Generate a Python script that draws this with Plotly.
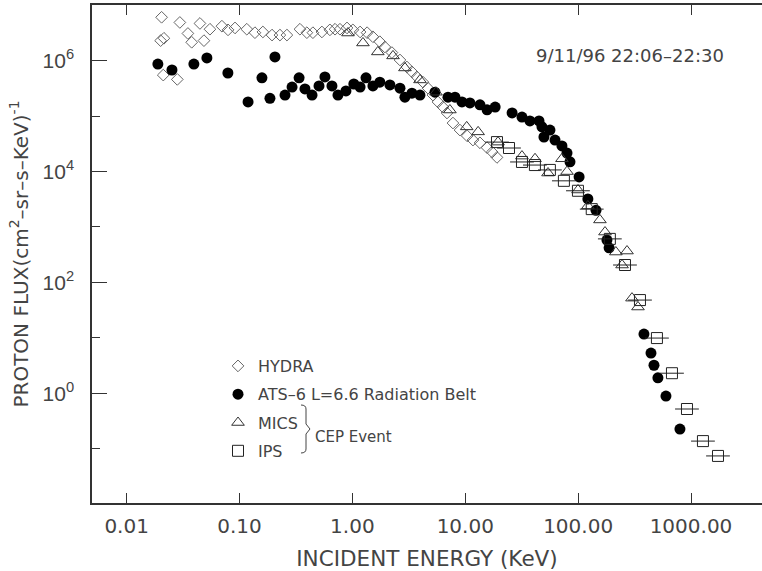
import plotly.graph_objects as go

# HYDRA (open diamonds)
hydra_energy = [0.0200, 0.0204, 0.0211, 0.0214, 0.0281, 0.0296, 0.0349, 0.0377, 0.0446, 0.0484,
                0.0547, 0.0698, 0.0791, 0.0912, 0.116, 0.137, 0.161, 0.194, 0.228, 0.263,
                0.343, 0.395, 0.447, 0.537, 0.632, 0.702, 0.776, 0.896, 1.01, 1.17,
                1.35, 1.52, 1.75, 1.94, 2.24, 2.64, 3.04, 3.37, 3.73, 4.22,
                4.67, 5.17, 5.73, 6.34, 6.89, 7.78, 8.98, 10.4, 11.7, 13.5,
                15.6, 17.3, 19.1]
hydra_flux = [2.30e6, 6.07e6, 5.5e5, 2.54e6, 4.6e5, 4.9e6, 3.1e6, 2.15e6, 4.7e6, 2.3e6,
              3.7e6, 4.2e6, 3.6e6, 3.9e6, 3.7e6, 3.2e6, 3.3e6, 2.9e6, 2.9e6, 2.9e6,
              3.7e6, 3.2e6, 3.2e6, 3.3e6, 3.6e6, 3.7e6, 3.7e6, 3.9e6, 3.6e6, 3.3e6,
              3.2e6, 2.7e6, 2.2e6, 1.77e6, 1.4e6, 1.03e6, 7.7e5, 6.3e5, 5.1e5, 4.1e5,
              3.2e5, 2.4e5, 1.8e5, 1.46e5, 1.14e5, 7.5e4, 5.6e4, 4.4e4, 3.7e4, 3.3e4,
              2.7e4, 2.25e4, 1.8e4]

# ATS-6 L=6.6 radiation belt (filled circles)
ats_energy = [0.0189, 0.0252, 0.0394, 0.0514, 0.0789, 0.119, 0.158, 0.186, 0.206, 0.253,
              0.292, 0.337, 0.380, 0.439, 0.506, 0.571, 0.659, 0.745, 0.877, 1.03,
              1.17, 1.32, 1.52, 1.75, 2.15, 2.64, 2.92, 3.37, 3.97, 5.39,
              7.03, 8.11, 9.35, 11.0, 13.5, 15.6, 18.4, 26.0, 31.8, 37.4,
              45.0, 47.8, 49.8, 56.3, 62.4, 71.9, 79.7, 84.7, 102, 122,
              144, 180, 188, 383, 442, 470, 509, 600, 798]
ats_flux = [8.7e5, 6.8e5, 8.7e5, 1.12e6, 6.0e5, 1.8e5, 4.9e5, 2.1e5, 1.17e6, 2.4e5,
            3.35e5, 4.9e5, 3.1e5, 2.4e5, 3.5e5, 5.1e5, 3.5e5, 2.4e5, 2.85e5, 3.8e5,
            3.35e5, 4.9e5, 3.5e5, 4.1e5, 3.65e5, 3.2e5, 2.2e5, 2.6e5, 2.4e5, 2.7e5,
            2.2e5, 2.2e5, 1.8e5, 1.73e5, 1.6e5, 1.3e5, 1.46e5, 1.14e5, 9.6e4, 8.2e4,
            8.2e4, 6.4e4, 4.2e4, 5.6e4, 3.7e4, 2.9e4, 2.16e4, 1.5e4, 8.0e3, 3.2e3,
            2.0e3, 580, 420, 11.7, 5.3, 3.2, 1.9, 0.89, 0.226]

# MICS (open triangles)
mics_energy = [0.914, 1.24, 1.68, 2.29, 2.92, 3.97, 5.50, 7.31, 10.3, 13.0,
               19.5, 31.8, 41.5, 54.1, 71.9, 79.7, 99.8, 122, 156, 173,
               216, 245, 271, 300, 339]
mics_flux = [3.16e6, 2.09e6, 1.44e6, 1.22e6, 7.4e5, 4.5e5, 2.7e5, 1.29e5, 6.4e4, 5.2e4,
             3.4e4, 1.9e4, 1.7e4, 9.4e3, 1.7e4, 1.0e4, 4.65e3, 2.4e3, 1.34e3, 810,
             353, 206, 368, 52, 36]

# IPS (open squares with energy bars)
ips_energy = [19.1, 24.4, 31.8, 41.4, 56.2, 74.8, 99.6, 132, 191, 260,
              353, 499, 678, 921, 1276, 1734]
ips_flux = [3.4e4, 2.66e4, 1.49e4, 1.31e4, 1.07e4, 6.8e3, 4.5e3, 2.1e3, 610, 206,
            48, 9.9, 2.3, 0.52, 0.137, 0.074]

x_ticks = [0.01, 0.1, 1, 10, 100, 1000]
x_labels = ['0.01', '0.10', '1.00', '10.00', '100.00', '1000.00']
y_ticks = [1, 1e2, 1e4, 1e6]
y_labels = ['10<sup>0</sup>', '10<sup>2</sup>', '10<sup>4</sup>', '10<sup>6</sup>']
y_minor = [0.1, 10, 1e3, 1e5]

W, H = 762, 571
ML, MR, MT, MB = 92, 0, 5, 68
FONT = 'DejaVu Sans'
TXT = '#444'

fig = go.Figure()
fig.add_trace(go.Scatter(x=hydra_energy, y=hydra_flux, mode='markers', name='HYDRA',
                         legendgroup='a', legendrank=1,
                         marker=dict(symbol='diamond-open', size=9, color='#666',
                                     line=dict(width=1, color='#666'))))
fig.add_trace(go.Scatter(x=ats_energy, y=ats_flux, mode='markers',
                         name='ATS\u20136 L=6.6 Radiation Belt',
                         legendgroup='b', legendrank=2,
                         marker=dict(symbol='circle', size=11, color='black')))
fig.add_trace(go.Scatter(x=mics_energy, y=mics_flux, mode='markers', name='MICS',
                         legendgroup='c', legendrank=3,
                         marker=dict(symbol='triangle-up-open', size=11, color='#333',
                                     line=dict(width=1, color='#333'))))
fig.add_trace(go.Scatter(x=ips_energy, y=ips_flux, mode='markers', name='IPS',
                         legendgroup='d', legendrank=4,
                         marker=dict(symbol='square-open', size=11, color='#222',
                                     line=dict(width=1, color='#222'))))
fig.add_trace(go.Scatter(x=ips_energy, y=ips_flux, mode='markers', showlegend=False,
                         hoverinfo='skip',
                         marker=dict(symbol='line-ew', size=17,
                                     line=dict(width=1, color='#222'))))

def paper(px, py):
    return (px - ML) / (W - ML - MR), (H - MB - py) / (H - MT - MB)

# brace grouping MICS and IPS
pts = [(301, 405), (306, 409), (306, 424), (310, 429), (306, 434), (306, 449), (301, 453)]
pp = [paper(a, b) for a, b in pts]
path = 'M %f %f Q %f %f %f %f L %f %f L %f %f L %f %f L %f %f Q %f %f %f %f' % (
    pp[0][0], pp[0][1], pp[1][0], pp[0][1], pp[1][0], pp[1][1],
    pp[2][0], pp[2][1], pp[3][0], pp[3][1], pp[4][0], pp[4][1],
    pp[5][0], pp[5][1], pp[5][0], pp[6][1], pp[6][0], pp[6][1])
fig.add_shape(type='path', path=path, xref='paper', yref='paper',
              line=dict(color=TXT, width=1))

cx, cy = paper(313, 437)
fig.add_annotation(text='CEP Event', x=cx, y=cy, xref='paper', yref='paper',
                   xanchor='left', yanchor='middle', showarrow=False,
                   font=dict(family=FONT, size=15, color=TXT))
dx, dy = paper(726, 55)
fig.add_annotation(text='9/11/96 22:06\u201322:30', x=dx, y=dy, xref='paper', yref='paper',
                   xanchor='right', yanchor='middle', showarrow=False,
                   font=dict(family=FONT, size=18, color=TXT))

lx, ly = paper(218, 349)
fig.update_layout(
    width=W, height=H,
    margin=dict(l=ML, r=MR, t=MT, b=MB),
    paper_bgcolor='white', plot_bgcolor='white',
    font=dict(family=FONT, color=TXT),
    showlegend=True,
    legend=dict(x=lx, y=ly, xanchor='left', yanchor='top', bgcolor='rgba(0,0,0,0)',
                traceorder='grouped', tracegroupgap=4.5,
                font=dict(family=FONT, size=16, color=TXT)),
    xaxis=dict(type='log', range=[-2.307, 3.629], tickvals=x_ticks, ticktext=x_labels,
               ticks='inside', ticklen=10, tickwidth=1.2, tickcolor='#333',
               showline=True, linecolor='#333', linewidth=1.5, mirror='ticks',
               showgrid=False, zeroline=False, ticklabelstandoff=4,
               tickfont=dict(family=FONT, size=20, color=TXT),
               title=dict(text='INCIDENT ENERGY (KeV)', standoff=15,
                          font=dict(family=FONT, size=21.5, color=TXT))),
    yaxis=dict(type='log', range=[-1.98, 7.005], tickvals=y_ticks, ticktext=y_labels,
               ticks='inside', ticklen=15, tickwidth=1.2, tickcolor='#333',
               minor=dict(tickvals=y_minor, ticks='inside', ticklen=8, tickwidth=1.2,
                          tickcolor='#333', showgrid=False),
               showline=True, linecolor='#333', linewidth=1.5,
               showgrid=False, zeroline=False, ticklabelstandoff=12,
               tickfont=dict(family='Liberation Sans', size=21, color=TXT),
               title=dict(text='PROTON FLUX(cm<sup>2</sup>\u2013sr\u2013s\u2013KeV)<sup>-1</sup>',
                          standoff=9, font=dict(family=FONT, size=20, color=TXT))),
    yaxis2=dict(type='log', range=[-1.98, 7.005], overlaying='y', side='right', anchor='x',
                tickvals=y_ticks, ticks='inside', ticklen=7, tickwidth=1.2, tickcolor='#333',
                showticklabels=False, showline=False, showgrid=False, zeroline=False),
)

fig.write_html('out.html', config={'displayModeBar': False},
               post_script="document.body.style.margin='0';")
